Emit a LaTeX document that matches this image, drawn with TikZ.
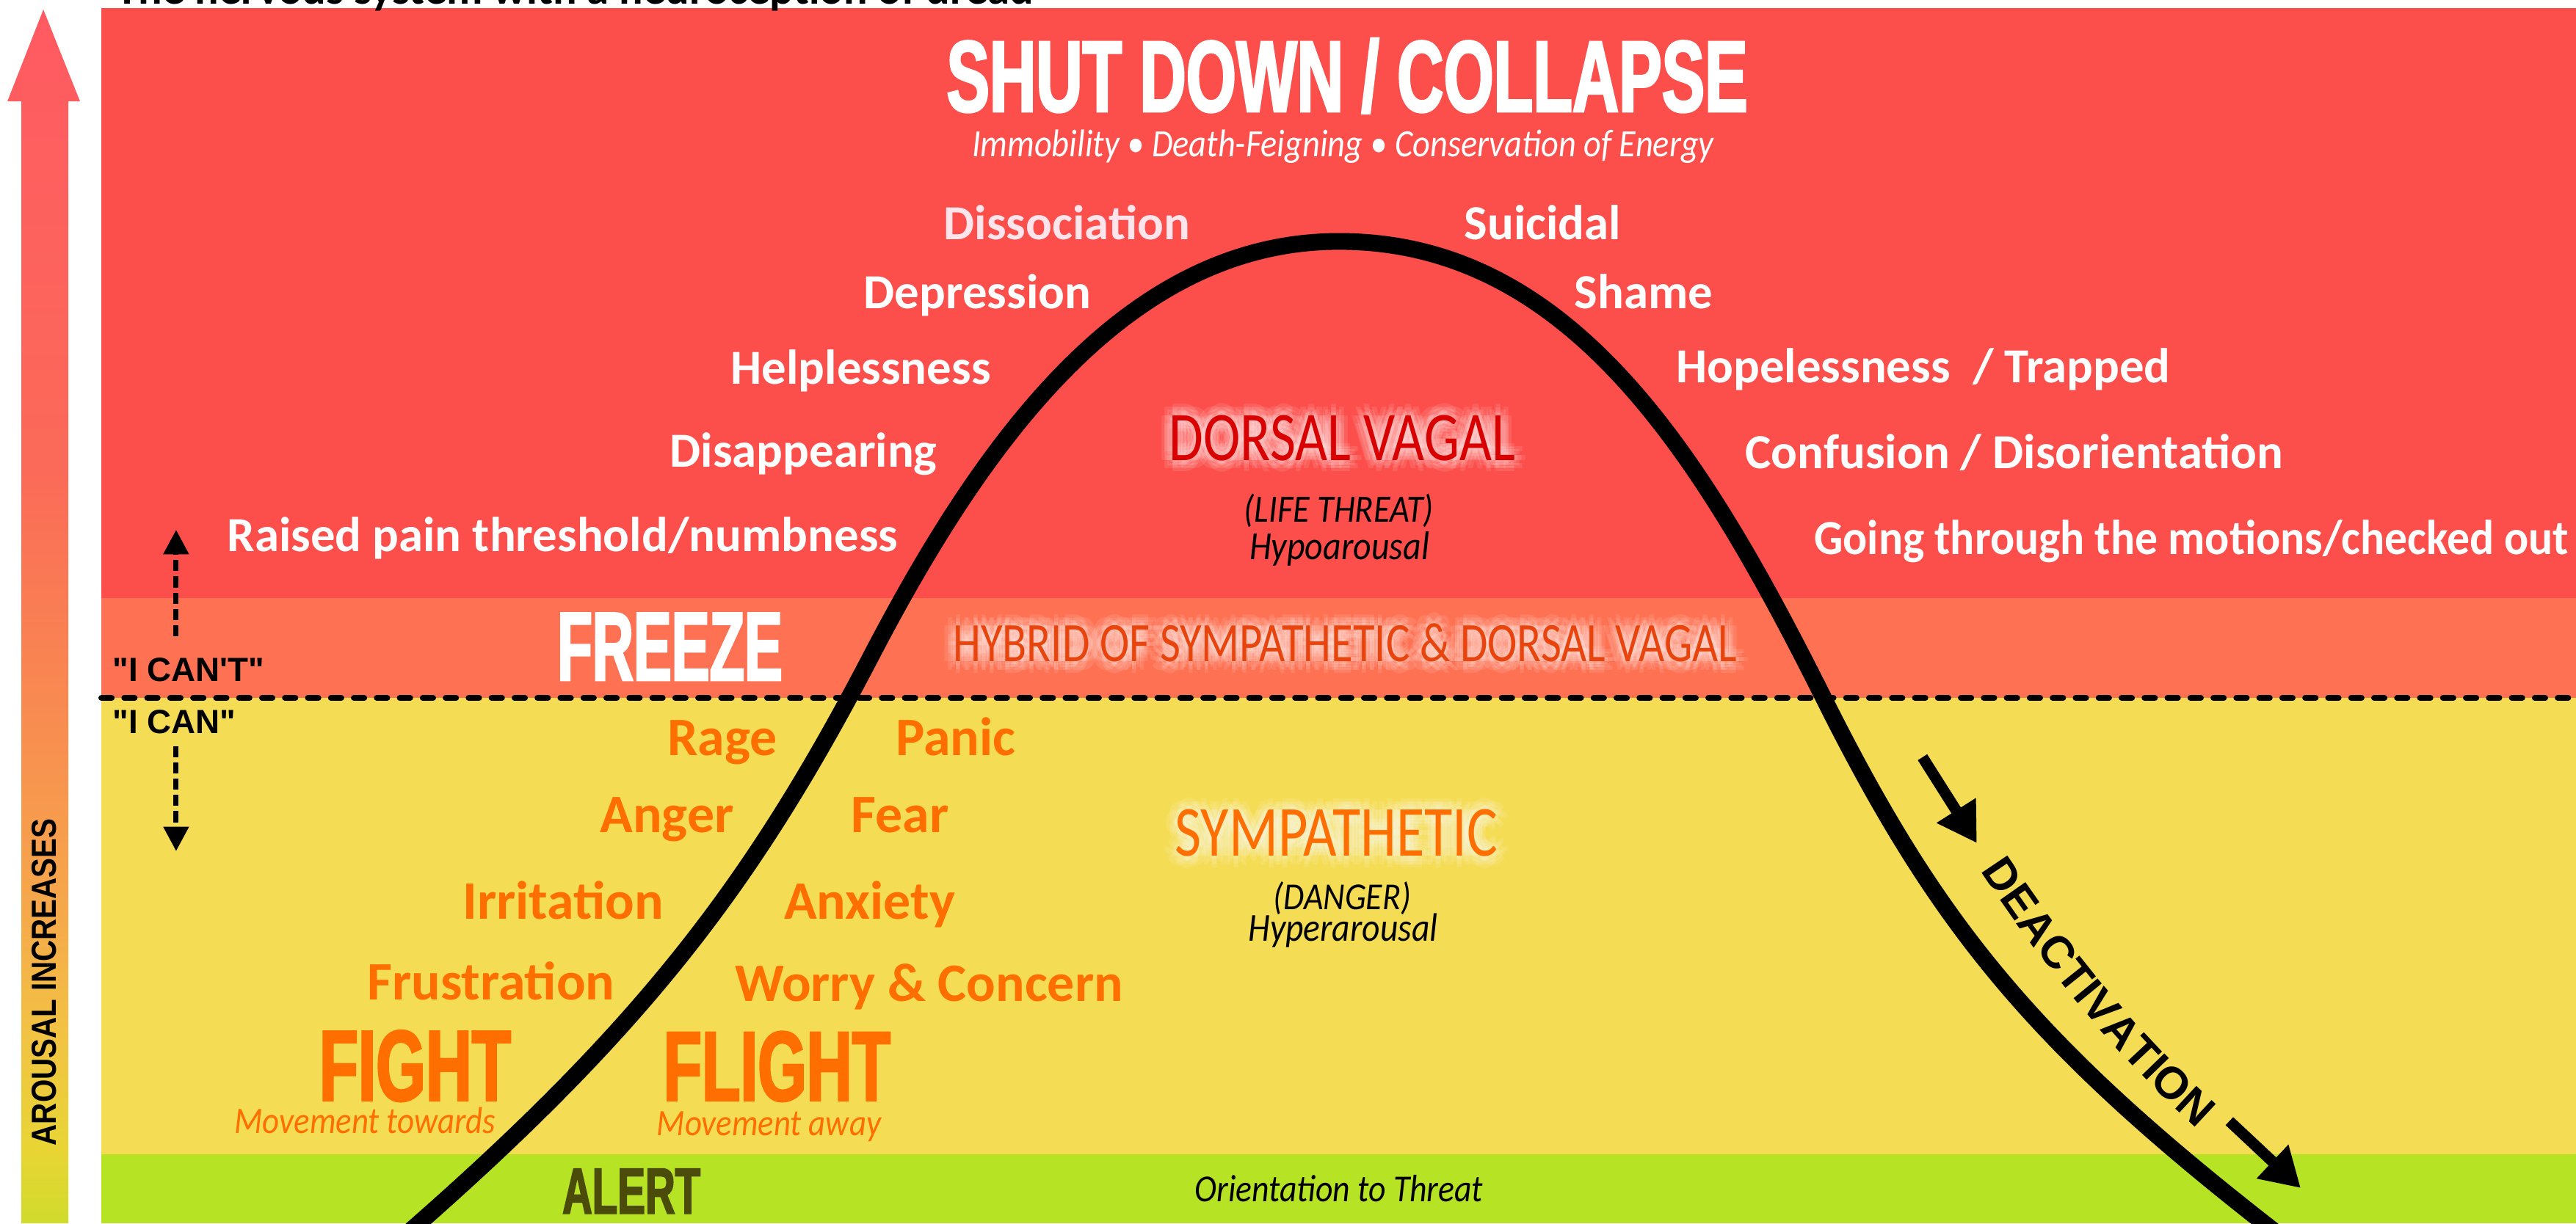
\documentclass[tikz,border=0pt]{standalone}
\usepackage{fontspec}
\usetikzlibrary{arrows.meta,decorations.text}

\setmainfont{Carlito}
\newfontfamily\heavyfont{Liberation Sans}[FakeStretch=0.635,FakeBold=2]
\newfontfamily\freezefont{Liberation Sans}[FakeStretch=0.585,FakeBold=2]
\newfontfamily\condfont{Carlito}[FakeStretch=0.8]
\newfontfamily\slimfont{Carlito}[FakeStretch=0.88]
\newfontfamily\tightfont{Carlito}[FakeStretch=0.925]
\newfontfamily\arialfont{Liberation Sans}
\newfontfamily\narrowfont{Liberation Sans}[FakeStretch=0.85]

\definecolor{shutRed}{HTML}{FC4E4B}
\definecolor{freezeOrange}{HTML}{FE7152}
\definecolor{sympYellow}{HTML}{F5DC55}
\definecolor{alertGreen}{HTML}{B6E323}
\definecolor{fearOrange}{HTML}{FF6E00}
\definecolor{dorsalRed}{HTML}{D80000}
\definecolor{hybridRed}{HTML}{E8450E}
\definecolor{alertOlive}{HTML}{4B4B0A}
\definecolor{paleRose}{HTML}{FFE4EC}
\definecolor{arTop}{HTML}{FF5A62}
\definecolor{arCoral}{HTML}{FB6A58}
\definecolor{arOrange}{HTML}{F88F50}
\definecolor{arAmber}{HTML}{F5AA4A}
\definecolor{arYellow}{HTML}{F2C244}
\definecolor{arLime}{HTML}{E8D534}
\definecolor{arBottom}{HTML}{D0DB2D}

\pgfdeclareverticalshading{arousalshade}{100bp}{%
  color(0bp)=(arBottom); color(25bp)=(arBottom); color(28bp)=(arLime);
  color(33bp)=(arYellow); color(37.5bp)=(arAmber); color(45bp)=(arOrange);
  color(56bp)=(arCoral); color(75bp)=(arTop); color(100bp)=(arTop)}

\tikzset{
  shutlabel/.style={text=white, font=\bfseries\fontsize{19}{19}\selectfont,
    anchor=base west, inner sep=0pt},
  fearlabel/.style={text=fearOrange, font=\bfseries\fontsize{21}{21}\selectfont,
    anchor=base west, inner sep=0pt},
  heavy/.style={font=\heavyfont\bfseries\fontsize{#1}{#1}\selectfont, inner sep=0pt},
  zone/.style={font=\condfont\fontsize{#1}{#1}\selectfont, anchor=base, inner sep=0pt},
  note/.style={font=\slimfont\itshape\fontsize{#1}{#1}\selectfont, inner sep=0pt},
  canlabel/.style={font=\arialfont\bfseries\fontsize{13}{13}\selectfont,
    anchor=base west, inner sep=0pt},
  curve/.style={line width=6.5pt, line cap=round},
  divider/.style={line width=2.3pt, line cap=round, dash pattern=on 4pt off 4.9pt},
  dashdir/.style={line width=2pt, dash pattern=on 4.3pt off 2pt,
    -{Triangle[width=9.5pt,length=9.5pt]}},
  deact/.style={line width=4.3pt, -{Triangle[width=17pt,length=15pt]}}
}

\begin{document}
\begin{tikzpicture}[x=0.02238cm, y=-0.02238cm]

% label with a soft white halo: name, position, size, colour, text
\newcommand{\glowtext}[5]{%
  \foreach \gr in {1.5,3,4.5}{%
    \foreach \ga in {0,45,...,315}{%
      \node[zone=#3, text=white, text opacity=0.1, shift={(\ga:\gr pt)}]
        (#1-halo-\ga) at (#2) {#5};
    }%
  }%
  \node[zone=#3, text=#4] (#1) at (#2) {#5};
}

\useasboundingbox (0,0) rectangle (1568,745);
\fill[white] (0,0) rectangle (1568,745);

% Arousal arrow
\shade[shading=arousalshade] (13,745) -- (13,61.7) -- (4.5,61.7) -- (26.4,5.8)
    -- (48.7,61.7) -- (41.6,61.7) -- (41.6,745) -- cycle;
\node[rotate=90, font=\narrowfont\bfseries\fontsize{13.5}{13.5}\selectfont]
    (arousal) at (27,598) {AROUSAL INCREASES};

% Bands
\fill[shutRed] (61.7,4.9) rectangle (1568,364);
\fill[freezeOrange] (61.7,364) rectangle (1568,425);
\fill[sympYellow] (61.7,425) rectangle (1568,703);
\fill[alertGreen] (61.7,703) rectangle (1568,745);

\node[anchor=base west, font=\bfseries\fontsize{17.3}{17.3}\selectfont, inner sep=0pt]
    (title) at (70.6,2.4) {The nervous system with a neuroception of dread};

% I can / I can't line
\coordinate (lineL) at (61.7,425);
\coordinate (lineR) at (1568,425);
\draw[divider] (lineL) -- (lineR);

\node[canlabel] (icant) at (68.3,414.7) {"I CAN'T"};
\node[canlabel] (ican) at (68.3,446.8) {"I CAN"};
\coordinate (upS) at (107.2,387.4);
\coordinate (upE) at (107.2,322.6);
\coordinate (dnS) at (107.2,454.4);
\coordinate (dnE) at (107.2,518.3);
\draw[dashdir] (upS) -- (upE);
\draw[dashdir] (dnS) -- (dnE);

% Bell curve
\coordinate (footL) at (240,758);
\coordinate (bendL) at (530,400);
\coordinate (peak) at (815,147);
\coordinate (bendR) at (1110,425);
\coordinate (footR) at (1395,758);
\draw[curve] (footL) .. controls (390,628) and (457,540) .. (bendL)
    .. controls (597.6,270) and (685,147) .. (peak)
    .. controls (955,147) and (1035,275) .. (bendR)
    .. controls (1180,565) and (1239,638) .. (footR);

% Shut down
\node[heavy=39.3, text=white, anchor=base] (shutdown) at (820,67.9) {SHUT DOWN / COLLAPSE};
\node[note=15, text=white, anchor=base] (shutnote) at (817.5,95.2)
    {Immobility • Death-Feigning • Conservation of Energy};

\node[shutlabel, text=paleRose] (dissoc) at (574.2,145.7) {Dissociation};
\node[shutlabel] (depress) at (525.5,187.7) {Depression};
\node[shutlabel] (helpless) at (444.6,233.7) {Helplessness};
\node[shutlabel] (disappear) at (407.5,284.6) {Disappearing};
\node[shutlabel] (numb) at (138,336) {Raised pain threshold/numbness};
\node[shutlabel] (suicidal) at (891,145.7) {Suicidal};
\node[shutlabel] (shame) at (958,187.7) {Shame};
\node[shutlabel] (hopeless) at (1020,233) {Hopelessness~ / Trapped};
\node[shutlabel] (confusion) at (1062,285.5) {Confusion / Disorientation};
\node[shutlabel, font=\tightfont\bfseries\fontsize{19}{19}\selectfont]
    (motions) at (1104,337.8) {Going through the motions/checked out};

\glowtext{dorsal}{817,280.2}{27}{dorsalRed}{DORSAL VAGAL}
\node[note=15, anchor=base] (lifethreat) at (815,318) {(LIFE THREAT)};
\node[note=15.5, anchor=base] (hypo) at (815.3,340.5) {Hypoarousal};

% Freeze
\node[font=\freezefont\bfseries\fontsize{37.8}{37.8}\selectfont, inner sep=0pt,
    text=white, anchor=base west] (freeze) at (339,414.2) {FREEZE};
\glowtext{hybrid}{818.8,403}{21.6}{hybridRed}{HYBRID OF SYMPATHETIC \& DORSAL VAGAL}

% Sympathetic
\node[fearlabel] (rage) at (406,460) {Rage};
\node[fearlabel] (panic) at (545,460) {Panic};
\node[fearlabel] (anger) at (365,507) {Anger};
\node[fearlabel] (fear) at (518,507) {Fear};
\node[fearlabel] (irritation) at (281.5,559.5) {Irritation};
\node[fearlabel] (anxiety) at (477,559.5) {Anxiety};
\node[fearlabel] (frustration) at (223.4,609) {Frustration};
\node[fearlabel] (worry) at (447,609.5) {Worry \& Concern};

\glowtext{symp}{813.5,521.4}{27.9}{fearOrange}{SYMPATHETIC}
\node[note=14.8, anchor=base] (danger) at (817,554) {(DANGER)};
\node[note=15.4, anchor=base] (hyper) at (817.5,573.3) {Hyperarousal};

\node[heavy=39, text=fearOrange, anchor=base west] (fight) at (194,670.2) {FIGHT};
\node[note=14.5, text=fearOrange, anchor=base west] (towards) at (142.5,690.3) {Movement towards};
\node[heavy=38.4, text=fearOrange, anchor=base west] (flight) at (403.5,670.2) {FLIGHT};
\node[note=14.5, text=fearOrange, anchor=base west] (away) at (399.5,691.7) {Movement away};

% Alert
\node[heavy=25.3, text=alertOlive, anchor=base west] (alert) at (342,739) {ALERT};
\node[note=14.8, anchor=base] (orient) at (815,731.9) {Orientation to Threat};

% Deactivation
\coordinate (d1S) at (1170.2,461.1);
\coordinate (d1E) at (1203.3,513.4);
\coordinate (d2S) at (1357,682.7);
\coordinate (d2E) at (1400.4,723.4);
\draw[deact] (d1S) -- (d1E);
\draw[deact] (d2S) -- (d2E);
\path[decorate, decoration={text along path, text align=center,
    text={|\arialfont\bfseries\fontsize{17.5}{17.5}\selectfont|DEACTIVATION}}]
    (1200,522) .. controls (1240.9,584.9) and (1288.4,644.8) .. (1345,694);

\end{tikzpicture}
\end{document}
